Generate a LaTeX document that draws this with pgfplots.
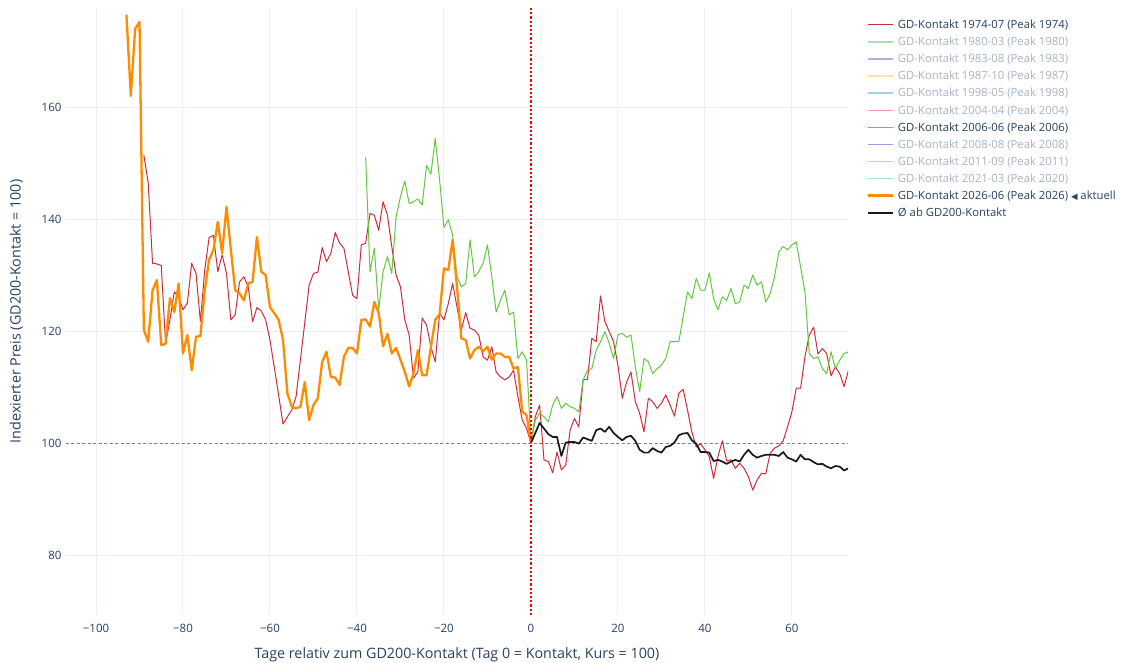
\documentclass[border=0pt]{standalone}
\usepackage{pgfplots}
\pgfplotsset{compat=1.18}
\usepackage{pgfplotstable}
\usepackage{fontspec}
\setmainfont{Open Sans}
\newfontfamily\symfont{DejaVu Sans}
\definecolor{txt}{HTML}{2A3F5F}
\definecolor{gridc}{HTML}{EBF0F8}
\definecolor{hid}{HTML}{A9B3C2}
\definecolor{cred}{RGB}{205,45,58}
\definecolor{cgreen}{RGB}{100,200,60}
\definecolor{corange}{RGB}{255,140,0}
\definecolor{h1}{RGB}{170,225,180}
\definecolor{h2}{RGB}{185,170,225}
\definecolor{h3}{RGB}{245,230,175}
\definecolor{h4}{RGB}{165,210,215}
\definecolor{h5}{RGB}{240,150,180}
\definecolor{h6}{RGB}{165,150,230}
\definecolor{h7}{RGB}{245,190,170}
\definecolor{h8}{RGB}{170,230,215}

\pgfplotstableread{
d v
-89 151.4
-88 146.5
-87 132.1
-86 132.0
-85 131.7
-84 117.8
-83 122.0
-82 127.0
-81 126.1
-80 123.8
-79 125.0
-78 132.1
-77 130.3
-76 121.7
-75 130.9
-74 136.7
-73 137.1
-72 130.6
-71 133.6
-70 130.3
-69 122.0
-68 122.9
-67 128.8
-66 129.7
-65 127.9
-64 121.7
-63 124.2
-62 123.6
-61 122.0
-60 118.4
-59 113.5
-58 108.5
-57 103.4
-56 104.7
-55 105.9
-54 108.3
-53 114.9
-52 121.5
-51 128.2
-50 130.3
-49 130.5
-48 134.9
-47 132.4
-46 133.9
-45 137.6
-44 135.7
-43 134.8
-42 130.6
-41 126.4
-40 125.8
-39 135.4
-38 135.7
-37 141.0
-36 140.7
-35 138.0
-34 143.1
-33 140.7
-32 135.1
-31 130.0
-30 127.9
-29 122.0
-28 119.3
-27 111.6
-26 112.7
-25 122.3
-24 121.1
-23 117.2
-22 114.5
-21 123.2
-20 122.0
-19 124.9
-18 128.5
-17 124.3
-16 120.2
-15 123.3
-14 120.5
-13 120.2
-12 119.3
-11 115.4
-10 114.8
-9 117.2
-8 112.7
-7 111.8
-6 111.3
-5 111.8
-4 113.0
-3 108.3
-2 104.1
-1 102.6
0 100.0
1 104.7
2 106.8
3 97.0
4 96.7
5 94.7
6 98.4
7 95.2
8 96.1
9 102.3
10 104.4
11 102.9
12 111.3
13 111.4
14 118.7
15 118.1
16 126.3
17 121.7
18 119.9
19 118.1
20 113.9
21 108.0
22 110.9
23 112.7
24 107.4
25 105.3
26 102.0
27 108.0
28 107.4
29 106.2
30 107.1
31 108.6
32 106.8
33 104.8
34 108.9
35 109.6
36 105.9
37 102.0
38 99.3
39 99.9
40 98.8
41 97.6
42 93.7
43 97.6
44 100.4
45 96.8
46 97.0
47 95.5
48 96.4
49 95.5
50 94.0
51 91.6
52 93.4
53 94.6
54 94.5
55 98.2
56 99.1
57 99.5
58 100.4
59 102.9
60 105.6
61 109.8
62 109.8
63 115.4
64 119.3
65 120.7
66 115.9
67 116.9
68 116.0
69 112.0
70 113.6
71 112.4
72 110.1
73 113.0
}\redtab

\pgfplotstableread{
d v
-38 151.0
-37 130.6
-36 134.8
-35 123.8
-34 130.6
-33 133.3
-32 130.3
-31 140.4
-30 144.0
-29 146.8
-28 142.8
-27 143.1
-26 143.6
-25 142.5
-24 149.6
-23 148.0
-22 154.4
-21 147.0
-20 138.5
-19 139.9
-18 137.1
-17 129.7
-16 127.9
-15 128.5
-14 136.3
-13 129.7
-12 130.6
-11 132.1
-10 135.4
-9 129.7
-8 123.4
-7 125.5
-6 127.3
-5 122.9
-4 123.4
-3 115.1
-2 116.3
-1 114.8
0 100.0
1 104.1
2 105.3
3 104.7
4 103.8
5 106.8
6 108.3
7 106.2
8 107.1
9 106.5
10 106.2
11 105.6
12 111.3
13 113.0
14 113.3
15 116.6
16 118.1
17 119.9
18 117.8
19 115.1
20 119.3
21 119.6
22 118.9
23 119.3
24 113.6
25 109.2
26 115.1
27 114.5
28 112.4
29 113.3
30 113.9
31 115.1
32 118.1
33 118.1
34 118.1
35 122.6
36 127.0
37 125.8
38 129.4
39 127.3
40 127.3
41 130.4
42 125.8
43 123.8
44 126.1
45 125.5
46 127.6
47 124.9
48 125.2
49 128.2
50 127.6
51 130.0
52 128.2
53 128.8
54 125.2
55 126.7
56 129.7
57 134.2
58 135.1
59 134.5
60 135.4
61 135.9
62 131.5
63 127.0
64 116.0
65 115.1
66 115.4
67 113.3
68 112.4
69 116.3
70 113.3
71 114.8
72 116.0
73 116.3
}\greentab

\pgfplotstableread{
d v
-93 176.5
-92 162.0
-91 174.0
-90 175.2
-89 120.2
-88 118.1
-87 127.3
-86 129.1
-85 117.5
-84 117.7
-83 125.9
-82 123.4
-81 128.5
-80 116.0
-79 119.3
-78 113.0
-77 119.0
-76 119.1
-75 127.3
-74 132.7
-73 134.5
-72 139.5
-71 133.9
-70 142.2
-69 134.5
-68 127.3
-67 126.7
-66 125.5
-65 128.5
-64 128.8
-63 136.8
-62 130.6
-61 130.0
-60 124.3
-59 123.2
-58 122.0
-57 118.4
-56 108.9
-55 106.5
-54 106.2
-53 106.5
-52 110.9
-51 104.1
-50 106.8
-49 108.0
-48 114.5
-47 116.3
-46 111.8
-45 111.7
-44 110.4
-43 115.4
-42 117.0
-41 117.0
-40 116.0
-39 122.0
-38 122.1
-37 120.8
-36 125.2
-35 123.2
-34 117.3
-33 119.5
-32 116.0
-31 117.0
-30 114.9
-29 112.7
-28 110.1
-27 112.4
-26 116.6
-25 112.1
-24 112.1
-23 117.2
-22 122.0
-21 123.0
-20 131.2
-19 130.9
-18 136.3
-17 127.9
-16 118.7
-15 118.4
-14 115.1
-13 116.6
-12 117.2
-11 116.4
-10 117.2
-9 114.9
-8 116.0
-7 116.0
-6 115.4
-5 115.4
-4 113.3
-3 113.6
-2 105.6
-1 105.0
0 100.0
}\orangetab

\pgfplotstableread{
d v
0 100.0
1 101.8
2 103.6
3 102.6
4 101.6
5 101.1
6 101.1
7 97.7
8 100.1
9 100.2
10 100.2
11 99.9
12 101.0
13 100.7
14 100.4
15 102.3
16 102.6
17 102.0
18 102.9
19 101.8
20 101.1
21 100.5
22 101.1
23 101.3
24 100.4
25 98.8
26 98.3
27 98.3
28 99.1
29 98.6
30 98.3
31 99.3
32 99.5
33 100.1
34 101.4
35 101.7
36 101.8
37 100.5
38 99.9
39 98.4
40 98.4
41 98.3
42 96.8
43 97.0
44 96.7
45 96.3
46 96.7
47 97.0
48 96.7
49 97.9
50 98.8
51 97.9
52 97.4
53 97.7
54 97.9
55 97.9
56 97.9
57 97.7
58 98.4
59 97.4
60 97.1
61 96.7
62 97.9
63 97.1
64 97.1
65 96.6
66 96.2
67 96.3
68 95.8
69 95.5
70 95.9
71 95.8
72 95.1
73 95.5
}\blacktab

\begin{document}
\begin{tikzpicture}[x=1pt,y=1pt]
\useasboundingbox (-66,-48) rectangle (1059,615);
\begin{axis}[
  at={(0,0)}, anchor=south west,
  scale only axis, width=782pt, height=607pt,
  xmin=-106.9, xmax=72.9, ymin=69.3, ymax=177.7,
  axis line style={draw=none},
  major tick length=0pt,
  xtick={-100,-80,-60,-40,-20,0,20,40,60},
  xticklabels={−100,−80,−60,−40,−20,0,20,40,60},
  ytick={80,100,120,140,160},
  yticklabels={80,100,120,140,160},
  grid=major,
  major grid style={color=gridc, line width=1pt},
  tick label style={font=\fontsize{11.5}{13}\selectfont, text=txt},
  xticklabel style={yshift=-6pt},
  yticklabel style={xshift=-1pt},
  xlabel={Tage relativ zum GD200-Kontakt (Tag 0 = Kontakt, Kurs = 100)},
  ylabel={Indexierter Preis (GD200-Kontakt = 100)},
  label style={font=\fontsize{14.3}{16}\selectfont, text=txt},
  xlabel style={yshift=-8pt},
  ylabel style={yshift=12pt},
  clip=true,
  legend cell align=left,
  legend image code/.code={\draw[#1] (0pt,0pt) -- (25pt,0pt);},
  legend style={
    at={(axis description cs:1.023,0.9814)}, anchor=north west,
    draw=none, fill=none,
    font=\fontsize{11.3}{13}\selectfont,
    row sep=6.5pt, inner sep=0pt,
    nodes={inner xsep=4pt, inner ysep=0pt},
  },
]
\addplot[forget plot, color=black!50, dash pattern=on 3pt off 2.5pt, line width=0.7pt] coordinates {(-106.9,100) (72.9,100)};
\addplot[forget plot, color=cred, line width=1pt, line join=round] table[x=d,y=v] {\redtab};
\addplot[forget plot, color=cgreen, line width=1pt, line join=round] table[x=d,y=v] {\greentab};
\addplot[forget plot, color=corange, line width=2.3pt, line join=round] table[x=d,y=v] {\orangetab};
\addplot[forget plot, color=black!90, line width=1.7pt, line join=round] table[x=d,y=v] {\blacktab};
\addplot[forget plot, color=red, dash pattern=on 2.2pt off 2pt, line width=2pt] coordinates {(0,69.3) (0,177.7)};

\addlegendimage{color=cred, line width=1.4pt}
\addlegendentry{\strut\textcolor{txt}{GD-Kontakt 1974-07 (Peak 1974)}}
\addlegendimage{color=h1, line width=1.4pt}
\addlegendentry{\strut\textcolor{hid}{GD-Kontakt 1980-03 (Peak 1980)}}
\addlegendimage{color=h2, line width=1.4pt}
\addlegendentry{\strut\textcolor{hid}{GD-Kontakt 1983-08 (Peak 1983)}}
\addlegendimage{color=h3, line width=1.4pt}
\addlegendentry{\strut\textcolor{hid}{GD-Kontakt 1987-10 (Peak 1987)}}
\addlegendimage{color=h4, line width=1.4pt}
\addlegendentry{\strut\textcolor{hid}{GD-Kontakt 1998-05 (Peak 1998)}}
\addlegendimage{color=h5, line width=1.4pt}
\addlegendentry{\strut\textcolor{hid}{GD-Kontakt 2004-04 (Peak 2004)}}
\addlegendimage{color=cgreen, line width=1.4pt}
\addlegendentry{\strut\textcolor{txt}{GD-Kontakt 2006-06 (Peak 2006)}}
\addlegendimage{color=h6, line width=1.4pt}
\addlegendentry{\strut\textcolor{hid}{GD-Kontakt 2008-08 (Peak 2008)}}
\addlegendimage{color=h7, line width=1.4pt}
\addlegendentry{\strut\textcolor{hid}{GD-Kontakt 2011-09 (Peak 2011)}}
\addlegendimage{color=h8, line width=1.4pt}
\addlegendentry{\strut\textcolor{hid}{GD-Kontakt 2021-03 (Peak 2020)}}
\addlegendimage{color=corange, line width=2.8pt}
\addlegendentry{\strut\textcolor{txt}{GD-Kontakt 2026-06 (Peak 2026) {\symfont\fontsize{8.5}{10}\selectfont ◀} aktuell}}
\addlegendimage{color=black!90, line width=1.8pt}
\addlegendentry{\strut\textcolor{txt}{Ø ab GD200-Kontakt}}
\end{axis}
\end{tikzpicture}
\end{document}
